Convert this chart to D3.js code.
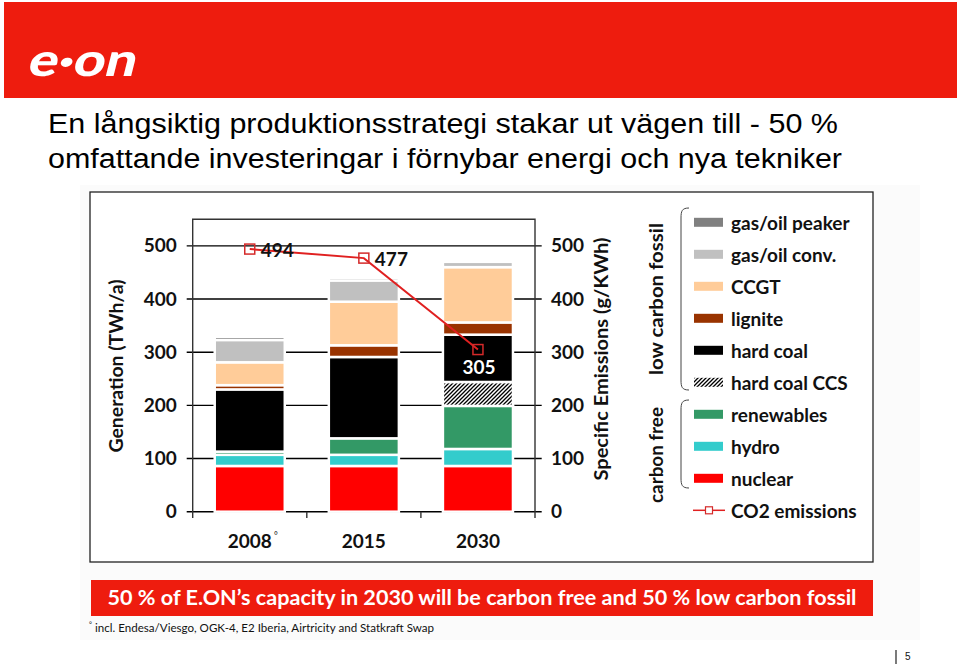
<!DOCTYPE html>
<html><head><meta charset="utf-8">
<script src="https://cdn.jsdelivr.net/npm/d3@7"></script>
<style>
html,body{margin:0;padding:0;background:#fff;}
svg{display:block;}
</style></head>
<body>
<svg id="chart" width="960" height="668"></svg>
<script>
// ---- data ----
const categories = ["2008", "2015", "2030"];
const nuclear      = [86, 86, 86];
const hydro        = [21, 21, 32];
const renewables   = [6, 31, 81];
const hardCoalCCS  = [0, 0, 45];
const hardCoal     = [117, 153, 89];
const lignite      = [8, 22, 23];
const ccgt         = [43, 82, 104];
const gasOilConv   = [42, 40, 10];
const gasOilPeaker = [6, 5, 0];
const co2Emissions = [494, 477, 305];
const yTicks = [0, 100, 200, 300, 400, 500];
const seriesNames = ["nuclear", "hydro", "renewables", "hard coal CCS", "hard coal", "lignite", "CCGT", "gas/oil conv.", "gas/oil peaker"];
const seriesValues = [nuclear, hydro, renewables, hardCoalCCS, hardCoal, lignite, ccgt, gasOilConv, gasOilPeaker];
const legendOrder = ["gas/oil peaker", "gas/oil conv.", "CCGT", "lignite", "hard coal", "hard coal CCS", "renewables", "hydro", "nuclear"];

const colors = {
  "nuclear": "#ff0000",
  "hydro": "#33cccc",
  "renewables": "#339966",
  "hard coal CCS": "url(#hatch)",
  "hard coal": "#000000",
  "lignite": "#993300",
  "CCGT": "#ffcc99",
  "gas/oil conv.": "#c0c0c0",
  "gas/oil peaker": "#808080"
};

const svg = d3.select("#chart");
const defs = svg.append("defs");
const pat = defs.append("pattern").attr("id", "hatch").attr("patternUnits", "userSpaceOnUse")
  .attr("width", 4).attr("height", 4);
pat.append("rect").attr("width", 4).attr("height", 4).attr("fill", "#fff");
pat.append("path").attr("d", "M-1,1 l2,-2 M0,4 l4,-4 M3,5 l2,-2").attr("stroke", "#000").attr("stroke-width", 1.3);

// ---- header ----
svg.append("rect").attr("x", 4).attr("y", 2).attr("width", 953).attr("height", 96).attr("fill", "#ee1c0e");
svg.append("text").attr("x", 0).attr("y", 0).attr("fill", "#fff")
  .attr("transform", "translate(26,76) skewX(-14)")
  .attr("font-family", "Lato").attr("font-weight", 900)
  .attr("font-size", 46).attr("textLength", 108).attr("lengthAdjust", "spacingAndGlyphs")
  .text("e·on");

const titleLines = ["En långsiktig produktionsstrategi stakar ut vägen till - 50 %",
                    "omfattande investeringar i förnybar energi och nya tekniker"];
const titleW = [790, 794];
svg.append("g").selectAll("text").data(titleLines).join("text")
  .attr("x", 48).attr("y", (d, i) => 133 + i * 34.5)
  .attr("font-family", "Liberation Sans, Arial, sans-serif").attr("font-size", 27)
  .attr("fill", "#000")
  .attr("textLength", (d, i) => titleW[i]).attr("lengthAdjust", "spacingAndGlyphs")
  .text(d => d);

// ---- background panel & frame ----
svg.append("rect").attr("x", 80).attr("y", 185).attr("width", 840).attr("height", 455).attr("fill", "#fbfbfb");
svg.append("rect").attr("x", 90).attr("y", 192).attr("width", 783).attr("height", 370)
  .attr("fill", "#fff").attr("stroke", "#222").attr("stroke-width", 1.3);

// ---- scales ----
const y = d3.scaleLinear().domain([0, 550]).range([511.7, 219.3]);
const x = d3.scaleBand().domain(categories).range([192.7, 535]).paddingInner(0.386).paddingOuter(0.193);
const font = "Lato, 'Open Sans', sans-serif";
const fs = 19;

// gridlines
const plot = svg.append("g");
plot.selectAll("line.grid").data(yTicks).join("line").attr("class", "grid")
  .attr("x1", 186.7).attr("x2", 541.7).attr("y1", d => y(d)).attr("y2", d => y(d))
  .attr("stroke", "#000").attr("stroke-width", 1.4);

// frame lines of plot
plot.append("path")
  .attr("d", `M${x.range()[0]},518 V${y(550)} H${x.range()[1]} V518`)
  .attr("fill", "none").attr("stroke", "#333").attr("stroke-width", 1.4);
// category boundary ticks
plot.selectAll("line.ctick").data(categories.slice(1)).join("line").attr("class", "ctick")
  .attr("x1", d => x(d) - x.step() * x.paddingInner() / 2).attr("x2", d => x(d) - x.step() * x.paddingInner() / 2)
  .attr("y1", y(0)).attr("y2", 518).attr("stroke", "#333").attr("stroke-width", 1.4);

// ---- stacked bars ----
const table = categories.map((c, i) => {
  const o = { cat: c };
  seriesNames.forEach((s, k) => o[s] = seriesValues[k][i]);
  return o;
});
const stacked = d3.stack().keys(seriesNames)(table);
svg.append("g").selectAll("g").data(stacked).join("g")
  .attr("fill", d => colors[d.key])
  .selectAll("rect").data(d => d.filter(p => p[1] - p[0] > 0)).join("rect")
  .attr("x", d => x(d.data.cat)).attr("width", x.bandwidth())
  .attr("y", d => y(d[1])).attr("height", d => y(d[0]) - y(d[1]))
  .attr("stroke", "#fff").attr("stroke-width", 2.5);

// ---- axes ----
const yl = svg.append("g").attr("transform", `translate(${x.range()[0]},0)`)
  .call(d3.axisLeft(y).tickValues(yTicks).tickSize(0).tickPadding(16));
const yr = svg.append("g").attr("transform", `translate(${x.range()[1]},0)`)
  .call(d3.axisRight(y).tickValues(yTicks).tickSize(0).tickPadding(16));
const xa = svg.append("g").attr("transform", `translate(0,${y(0)})`)
  .call(d3.axisBottom(x).tickSize(0).tickPadding(23));
[yl, yr, xa].forEach(g => {
  g.select(".domain").remove();
  g.selectAll("text").attr("font-family", font).attr("font-weight", 700)
    .attr("font-size", fs).attr("fill", "#111");
});
xa.selectAll(".tick").filter(d => d === "2008").append("text")
  .attr("x", 26).attr("y", 27).attr("font-family", font).attr("font-size", 9).attr("fill", "#111").text("°");

// axis titles
function vtext(cx, cy, txt, len) {
  svg.append("text").attr("transform", `translate(${cx},${cy}) rotate(-90)`)
    .attr("text-anchor", "middle").attr("dominant-baseline", "central")
    .attr("font-family", font).attr("font-weight", 700).attr("font-size", fs).attr("fill", "#111")
    .attr("textLength", len).attr("lengthAdjust", "spacingAndGlyphs").text(txt);
}
vtext(115, 366, "Generation (TWh/a)", 173);
vtext(600, 359, "Specific Emissions (g/KWh)", 243);
vtext(655, 299, "low carbon fossil", 152);
vtext(655, 455, "carbon free", 96);

// ---- CO2 line ----
const pts = categories.map((c, i) => [x(c) + x.bandwidth() / 2, y(co2Emissions[i])]);
svg.append("path").attr("d", d3.line()(pts)).attr("fill", "none")
  .attr("stroke", "#e02020").attr("stroke-width", 2);
svg.append("g").selectAll("rect").data(pts).join("rect")
  .attr("x", d => d[0] - 5).attr("y", d => d[1] - 5).attr("width", 10).attr("height", 10)
  .attr("fill", "none").attr("stroke", "#d42a2a").attr("stroke-width", 1.5);
const labOff = [[11, 8, "start", "#111"], [11, 8, "start", "#111"], [1, 24, "middle", "#fff"]];
svg.append("g").selectAll("text").data(pts).join("text")
  .attr("x", (d, i) => d[0] + labOff[i][0]).attr("y", (d, i) => d[1] + labOff[i][1])
  .attr("text-anchor", (d, i) => labOff[i][2]).attr("fill", (d, i) => labOff[i][3])
  .attr("font-family", font).attr("font-weight", 700).attr("font-size", fs)
  .text((d, i) => co2Emissions[i]);

// ---- legend ----
const leg = svg.append("g");
const ly = i => 222.3 + i * 32;
leg.selectAll("rect").data(legendOrder).join("rect")
  .attr("x", 694).attr("y", (d, i) => ly(i) - 4.5).attr("width", 29).attr("height", 9)
  .attr("fill", d => colors[d]);
leg.selectAll("text").data(legendOrder.concat(["CO2 emissions"])).join("text")
  .attr("x", 731).attr("y", (d, i) => ly(i)).attr("dominant-baseline", "central")
  .attr("font-family", font).attr("font-weight", 700).attr("font-size", fs).attr("fill", "#111")
  .text(d => d);
const cy = ly(legendOrder.length);
leg.append("line").attr("x1", 693).attr("x2", 725).attr("y1", cy).attr("y2", cy)
  .attr("stroke", "#e02020").attr("stroke-width", 1.5);
leg.append("rect").attr("x", 705.5).attr("y", cy - 3.5).attr("width", 7).attr("height", 7)
  .attr("fill", "#fff").attr("stroke", "#d42a2a").attr("stroke-width", 1.2);

// braces
function brace(y0, y1) {
  leg.append("path")
    .attr("d", `M689,${y0} C682,${y0} 681,${y0 + 3} 681,${y0 + 10} V${y1 - 10} C681,${y1 - 3} 682,${y1} 689,${y1}`)
    .attr("fill", "none").attr("stroke", "#444").attr("stroke-width", 1);
}
brace(208, 390);
brace(400, 488);

// ---- banner & footnote ----
svg.append("rect").attr("x", 91).attr("y", 580).attr("width", 782).attr("height", 36).attr("fill", "#ee1c0e");
svg.append("text").attr("x", 482).attr("y", 604.5).attr("text-anchor", "middle")
  .attr("font-family", font).attr("font-weight", 700).attr("font-size", 21).attr("fill", "#fff")
  .attr("textLength", 749).attr("lengthAdjust", "spacingAndGlyphs")
  .text("50 % of E.ON’s capacity in 2030 will be carbon free and 50 % low carbon fossil");
svg.append("text").attr("x", 89).attr("y", 627).attr("font-family", font).attr("font-size", 7).attr("fill", "#111").text("°");
svg.append("text").attr("x", 95).attr("y", 632).attr("font-family", font).attr("font-size", 11.5).attr("fill", "#111")
  .attr("textLength", 339).attr("lengthAdjust", "spacingAndGlyphs")
  .text("incl. Endesa/Viesgo, OGK-4, E2 Iberia, Airtricity and Statkraft Swap");

// page number
svg.append("line").attr("x1", 896).attr("x2", 896).attr("y1", 650).attr("y2", 664).attr("stroke", "#222").attr("stroke-width", 1.2);
svg.append("text").attr("x", 905).attr("y", 660).attr("font-family", "Liberation Sans, Arial, sans-serif")
  .attr("font-size", 10).attr("fill", "#111").text("5");
</script>
</body></html>
